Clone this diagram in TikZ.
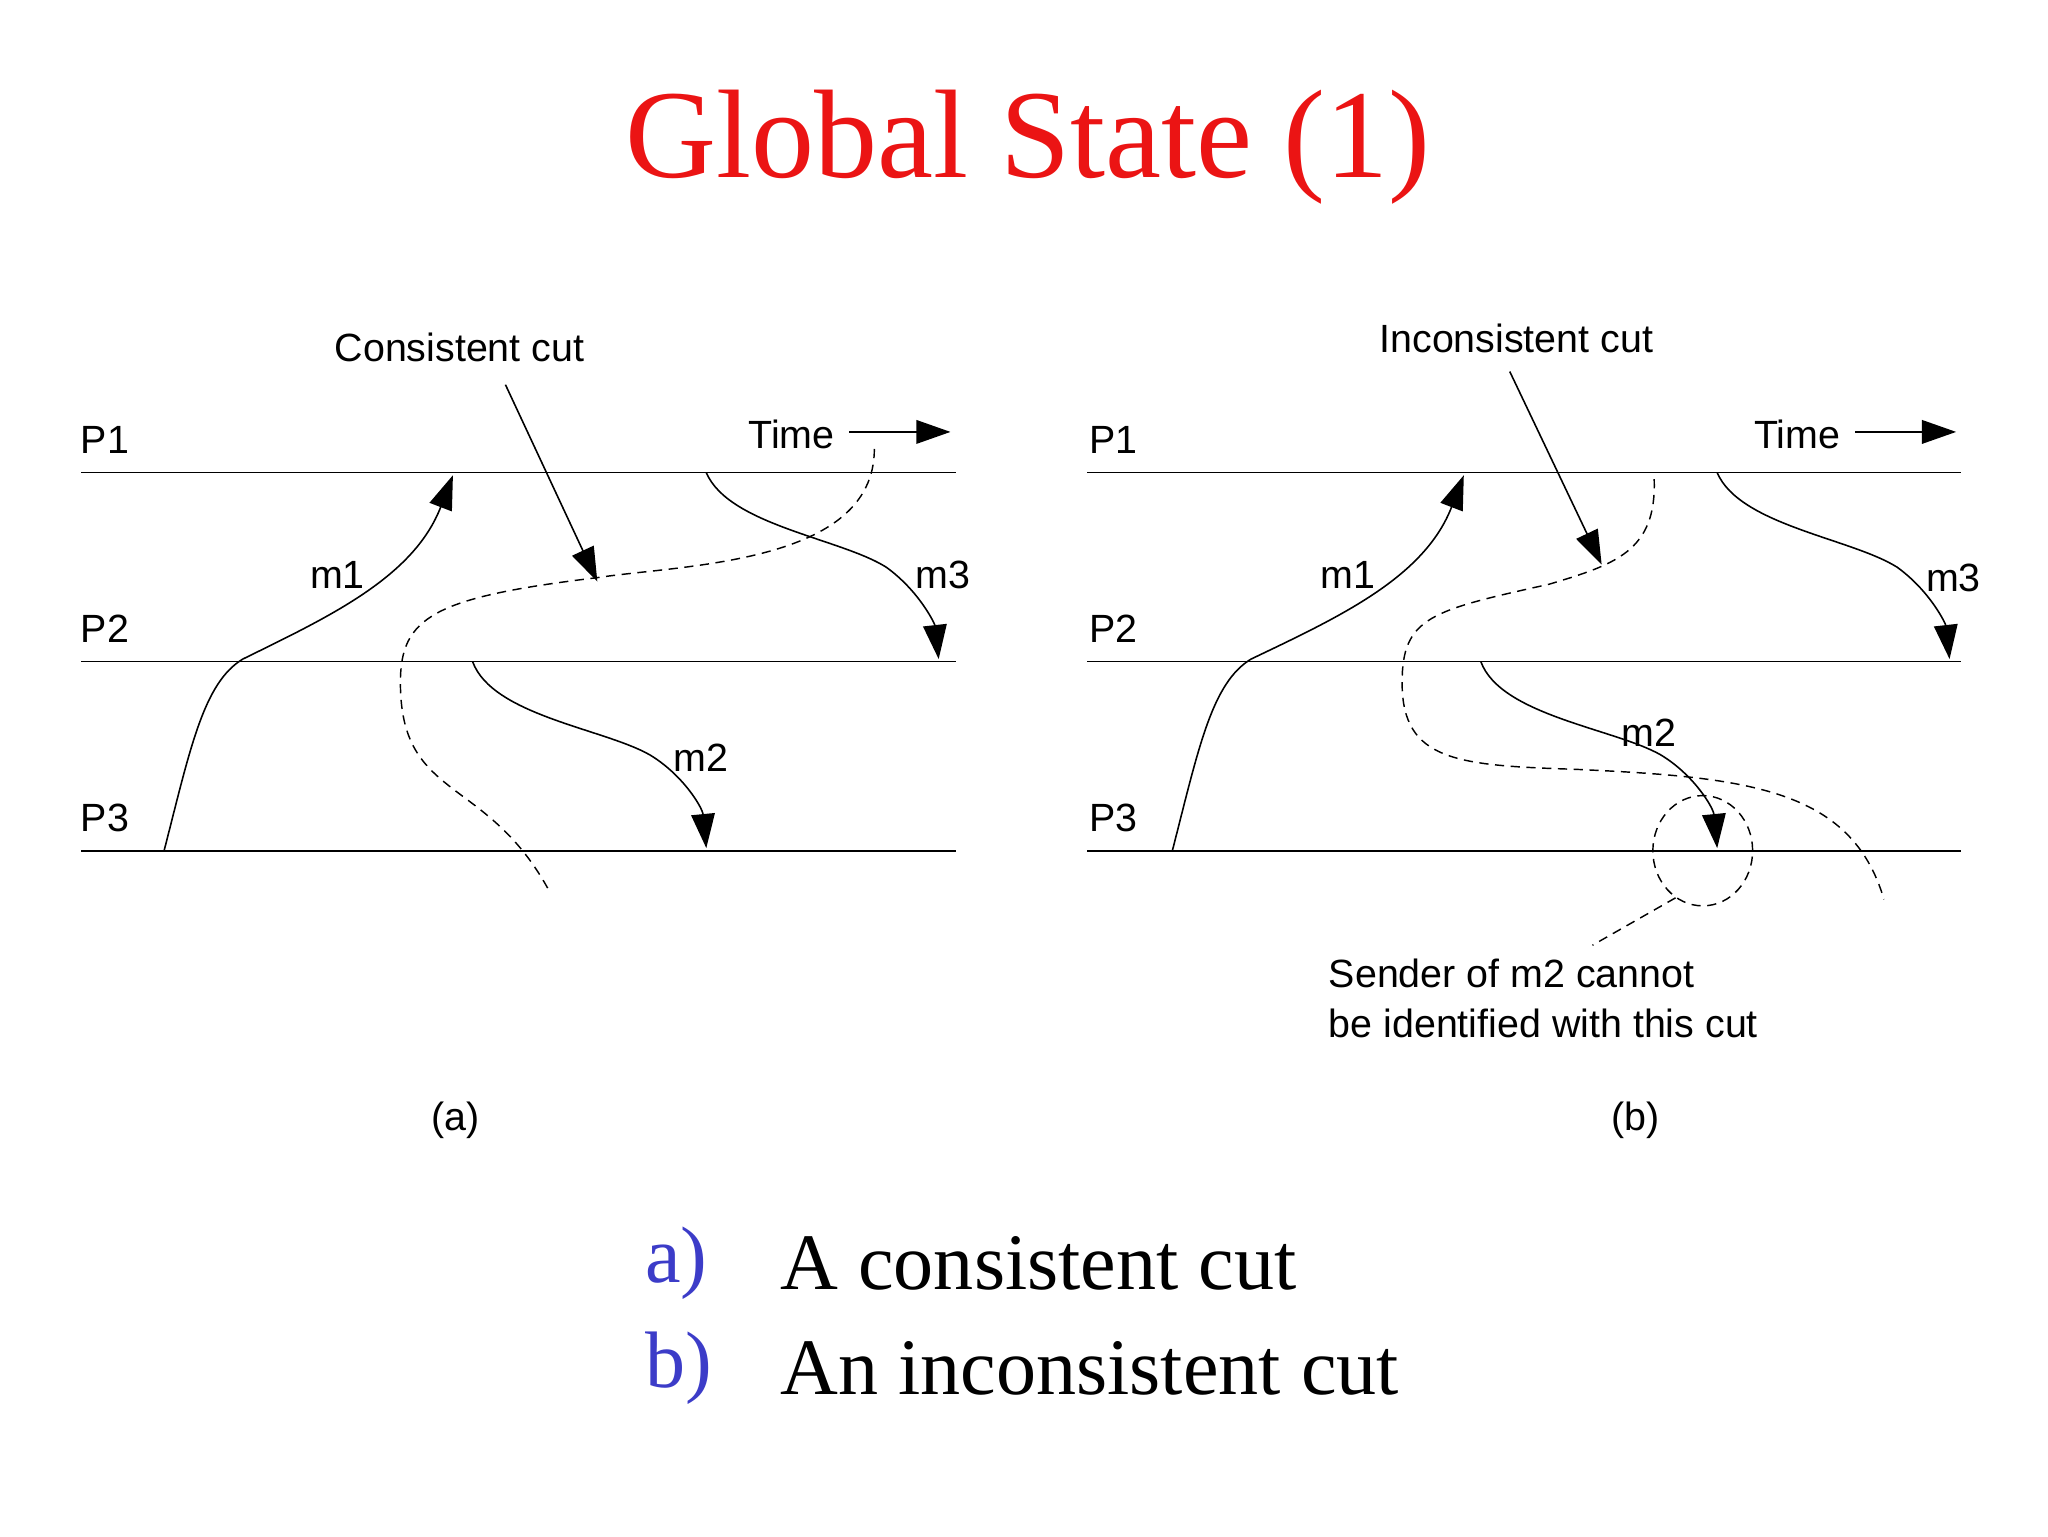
\documentclass[tikz,border=0pt]{standalone}
\usepackage{fontspec}
\setmainfont{Liberation Serif}
\setsansfont{Liberation Sans}
\usetikzlibrary{arrows.meta,shapes.geometric}
\definecolor{tred}{RGB}{235,20,20}
\definecolor{tblue}{RGB}{60,60,200}
\begin{document}
\begin{tikzpicture}[x=1pt,y=-1pt,
  lbl/.style={font=\sffamily\fontsize{30}{34}\selectfont,inner sep=0},
  proc/.style={line width=1.2pt},
  msg/.style={line width=1.2pt,-{Triangle[length=26pt,width=18pt]}},
  cut/.style={line width=1.1pt,dash pattern=on 7pt off 5pt}]
\useasboundingbox (0,0) rectangle (1560,1170);
\node[font=\fontsize{96}{104}\selectfont,text=tred] (title) at (783,112) {Global State (1)};
% ---- panel a
\foreach \y/\n in {360/1,504/2,648/3}{
  \draw[proc] (62,\y) -- (728,\y);
  \node[lbl] (pa\n) at (80,\y-25) {P\n};
}
\node[lbl] (timea) at (603,331) {Time};
\coordinate (ta1) at (647,329); \coordinate (ta2) at (724,329);
\draw[msg] (ta1) -- (ta2);
\coordinate (a1s) at (125,648); \coordinate (a1e) at (345,362);
\draw[msg] (a1s) .. controls (145,570) and (155,520) .. (185,502) .. controls (250,470) and (315,440) .. (a1e);
\node[lbl] (m1a) at (257,438) {m1};
\coordinate (a3s) at (538,360); \coordinate (a3e) at (715,502);
\draw[msg] (a3s) .. controls (555,400) and (640,410) .. (675,432) .. controls (700,450) and (712,475) .. (a3e);
\node[lbl] (m3a) at (718,438) {m3};
\coordinate (a2s) at (360,504); \coordinate (a2e) at (538,646);
\draw[msg] (a2s) .. controls (375,545) and (460,555) .. (495,575) .. controls (520,590) and (535,615) .. (a2e);
\node[lbl] (m2a) at (534,577) {m2};
\draw[cut] (666,342) .. controls (666,430) and (520,430) .. (455,440) .. controls (330,455) and (305,470) .. (305,520) .. controls (305,610) and (370,590) .. (418,678);
\node[lbl] (cca) at (350,265) {Consistent cut};
\coordinate (cae) at (455,443);
\draw[msg] (385,293) -- (cae);
\node[lbl] (capa) at (347,853) {(a)};
% ---- panel b
\foreach \y/\n in {360/1,504/2,648/3}{
  \draw[proc] (828,\y) -- (1494,\y);
  \node[lbl] (pb\n) at (848,\y-25) {P\n};
}
\node[lbl] (timeb) at (1369,331) {Time};
\coordinate (tb1) at (1413,329); \coordinate (tb2) at (1490,329);
\draw[msg] (tb1) -- (tb2);
\coordinate (b1s) at (893,648); \coordinate (b1e) at (1115,362);
\draw[msg] (b1s) .. controls (913,570) and (923,520) .. (953,502) .. controls (1020,470) and (1085,440) .. (b1e);
\node[lbl] (m1b) at (1027,438) {m1};
\coordinate (b3s) at (1308,360); \coordinate (b3e) at (1485,502);
\draw[msg] (b3s) .. controls (1325,400) and (1410,410) .. (1445,432) .. controls (1470,450) and (1482,475) .. (b3e);
\node[lbl] (m3b) at (1488,440) {m3};
\coordinate (b2s) at (1128,504); \coordinate (b2e) at (1308,646);
\draw[msg] (b2s) .. controls (1143,545) and (1230,555) .. (1265,575) .. controls (1290,590) and (1305,615) .. (b2e);
\node[lbl] (m2b) at (1256,558) {m2};
\draw[cut] (1260,365) .. controls (1262,420) and (1230,430) .. (1180,445) .. controls (1090,465) and (1068,470) .. (1068,520) .. controls (1068,580) and (1110,583) .. (1200,586) .. controls (1330,592) and (1410,600) .. (1435,685);
\node[lbl] (icb) at (1155,258) {Inconsistent cut};
\coordinate (cbe) at (1220,430);
\draw[msg] (1150,283) -- (cbe);
\node[draw,cut,ellipse,minimum width=76pt,minimum height=84pt] (circ) at (1297,648) {};
\node[lbl,align=left,anchor=north west] (note) at (1012,730) {Sender of m2 cannot\\[4pt]be identified with this cut};
\draw[cut] (circ.240) -- (1213,720);
\node[lbl] (capb) at (1246,853) {(b)};
% ---- bottom
\node[font=\fontsize{61}{65}\selectfont,text=tblue,anchor=west] (la) at (488,962) {a)};
\node[font=\fontsize{61}{65}\selectfont,anchor=west] (ta) at (591,962) {A consistent cut};
\node[font=\fontsize{61}{65}\selectfont,text=tblue,anchor=west] (lb) at (488,1042) {b)};
\node[font=\fontsize{61}{65}\selectfont,anchor=west] (tb) at (591,1042) {An inconsistent cut};
\end{tikzpicture}
\end{document}
